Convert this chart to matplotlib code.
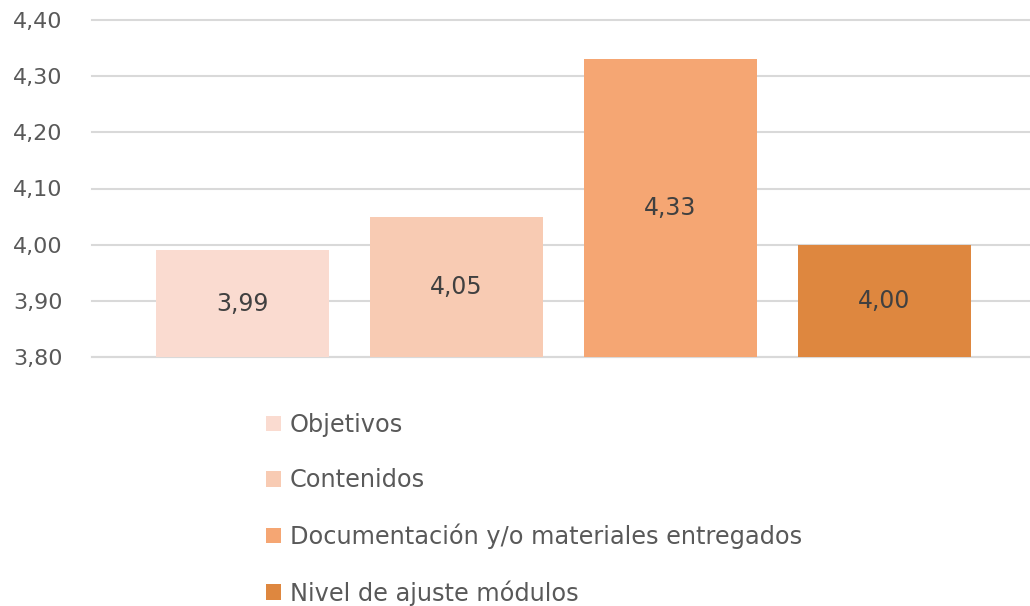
import matplotlib
matplotlib.use("Agg")
import matplotlib.pyplot as plt
from matplotlib.patches import Patch

# data
categories = ["Objetivos", "Contenidos", "Documentación y/o materiales entregados",
              "Nivel de ajuste módulos"]
values = [3.99, 4.05, 4.33, 4.00]
colors = ["#FADBD0", "#F8CBB3", "#F5A673", "#DE873F"]
yticks = [3.80, 3.90, 4.00, 4.10, 4.20, 4.30, 4.40]

plt.rcParams['font.family'] = ['DejaVu Sans']
txt = "#595959"

fig = plt.figure(figsize=(10.30, 6.06), dpi=100)
ax = fig.add_axes([92 / 1030, 249 / 606, (1030 - 92) / 1030, 337 / 606])

x = list(range(len(values)))
bars = ax.bar(x, [v - 3.80 for v in values], bottom=3.80, width=0.81,
              color=colors, zorder=3)
for b, v in zip(bars, values):
    ax.text(b.get_x() + b.get_width() / 2, (3.80 + v) / 2,
            f"{v:.2f}".replace(".", ","), ha="center", va="center",
            fontsize=17, color="#404040", zorder=4)

ax.set_ylim(3.80, 4.40)
ax.set_xlim(-0.703, 3.68)
ax.set_yticks(yticks)
ax.set_yticklabels([f"{t:.2f}".replace(".", ",") for t in yticks],
                   fontsize=16, color=txt)
ax.set_xticks([])
ax.tick_params(axis="y", length=0, pad=21)
ax.grid(axis="y", color="#D9D9D9", linewidth=1.5, zorder=0)
for gl in ax.get_ygridlines():
    gl.set_clip_on(False)
for s in ["top", "right", "left"]:
    ax.spines[s].set_visible(False)
ax.spines["bottom"].set_color("#D9D9D9")
ax.spines["bottom"].set_linewidth(1.5)

handles = [Patch(facecolor=c, edgecolor="none") for c in colors]
leg = fig.legend(handles, categories, loc="upper left",
                 bbox_to_anchor=(266 / 1030, 1 - 413 / 606),
                 frameon=False, fontsize=17.3, handlelength=0.62, handleheight=0.62,
                 handletextpad=0.36, labelspacing=1.3, borderaxespad=0,
                 borderpad=0)
for t in leg.get_texts():
    t.set_color(txt)

fig.savefig("out.png", dpi=100)
